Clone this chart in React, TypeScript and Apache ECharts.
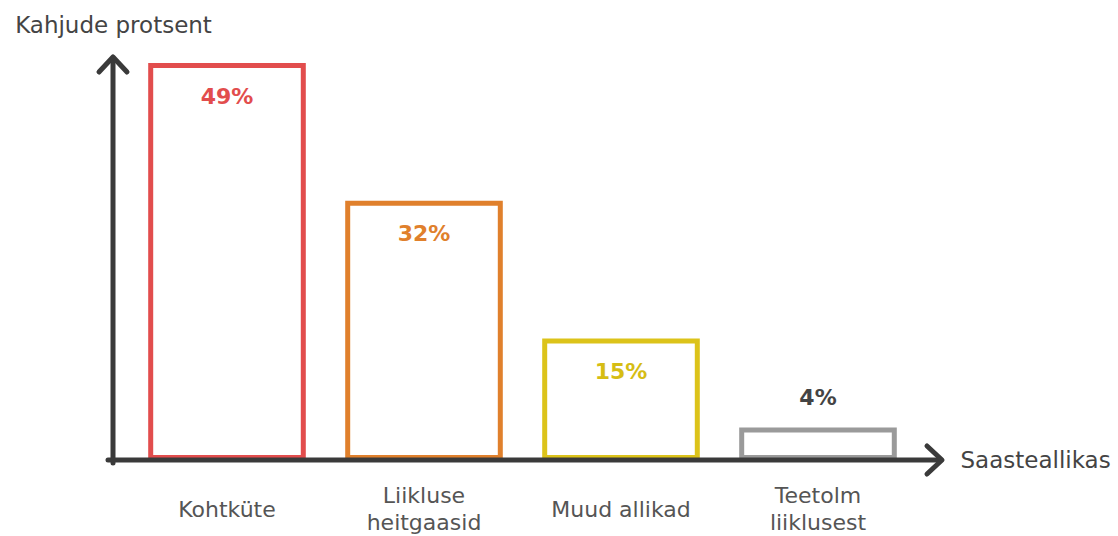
import React, { useEffect, useRef } from "react";
import * as echarts from "echarts";

const categories = ["Kohtküte", "Liikluse\nheitgaasid", "Muud allikad", "Teetolm\nliiklusest"];
const values = [49, 32, 15, 4];
const barColors = ["#e24d4d", "#e0802c", "#dcc31a", "#9a9a9a"];
const labelColors = ["#e24d4d", "#e0802c", "#d6bd14", "#444444"];
const labelPositions = ["insideTop", "insideTop", "insideTop", "top"];
const yAxisName = "Kahjude protsent";
const xAxisName = "Saasteallikas";

const FONT = "'DejaVu Sans', sans-serif";

export default function App() {
  const ref = useRef<HTMLDivElement>(null);
  useEffect(() => {
    if (!ref.current) return;
    const chart = echarts.init(ref.current, undefined, { renderer: "svg" });
    const axisColor = "#3a3a3a";
    chart.setOption({
      animation: false,
      grid: { left: 128.5, right: 201.5, top: 55, bottom: 76, containLabel: false },
      xAxis: {
        type: "category",
        data: categories,
        name: xAxisName,
        nameLocation: "end",
        nameGap: 44,
        nameTextStyle: { fontSize: 23, color: "#444", fontFamily: FONT, verticalAlign: "middle" },
        axisLine: { show: false },
        axisTick: { show: false },
        axisLabel: {
          margin: 49,
          fontSize: 22,
          color: "#555",
          fontFamily: FONT,
          lineHeight: 27,
          verticalAlign: "middle",
          interval: 0,
        },
      },
      yAxis: {
        type: "value",
        min: 0,
        max: 50,
        offset: 15,
        name: yAxisName,
        nameLocation: "end",
        nameGap: 19,
        nameTextStyle: { fontSize: 23, color: "#444", fontFamily: FONT },
        axisLine: { show: false },
        axisTick: { show: false },
        axisLabel: { show: false },
        splitLine: { show: false },
      },
      series: [
        {
          type: "bar",
          barWidth: "80%",
          data: values.map((v, i) => ({
            value: v,
            itemStyle: { color: "#ffffff", borderColor: barColors[i], borderWidth: 5 },
            label: {
              show: true,
              position: labelPositions[i],
              distance: labelPositions[i] === "top" ? 19 : 22,
              formatter: "{c}%",
              color: labelColors[i],
              fontSize: 22,
              fontWeight: "bold",
              fontFamily: FONT,
            },
          })),
        },
      ],
      graphic: [
        {
          type: "polyline",
          z: 100,
          shape: { points: [[113, 463], [113, 58]] },
          style: { stroke: axisColor, lineWidth: 5, fill: null, lineCap: "round" },
        },
        {
          type: "polyline",
          z: 100,
          shape: { points: [[99, 72], [113, 57], [127, 72]] },
          style: { stroke: axisColor, lineWidth: 5, fill: null, lineCap: "round", lineJoin: "round" },
        },
        {
          type: "polyline",
          z: 100,
          shape: { points: [[108, 460], [941, 460]] },
          style: { stroke: axisColor, lineWidth: 5, fill: null, lineCap: "round" },
        },
        {
          type: "polyline",
          z: 100,
          shape: { points: [[927, 446], [942, 460], [927, 474]] },
          style: { stroke: axisColor, lineWidth: 5, fill: null, lineCap: "round", lineJoin: "round" },
        },
      ],
    });
    return () => chart.dispose();
  }, []);
  return <div ref={ref} style={{ width: 1118, height: 536, position: "absolute", left: 0, top: 0 }} />;
}
